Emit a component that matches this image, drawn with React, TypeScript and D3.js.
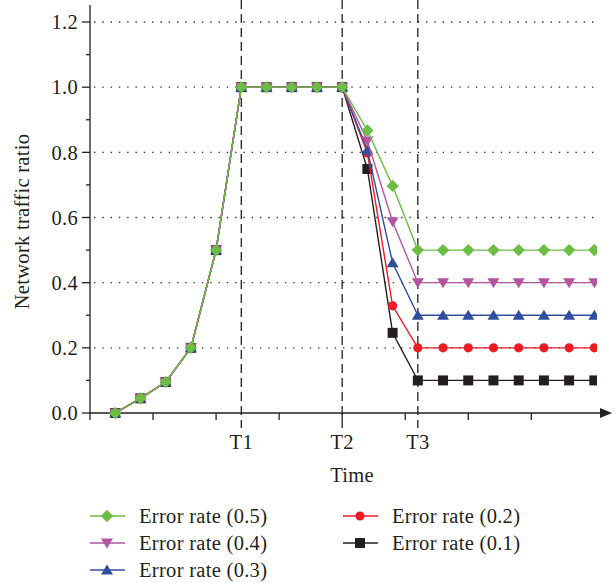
import React, { useEffect, useRef } from 'react';
import * as d3 from 'd3';

// time steps (index along the x axis)
const timeSteps = [0, 1, 2, 3, 4, 5, 6, 7, 8, 9, 10, 11, 12, 13, 14, 15, 16, 17, 18, 19];

const err05 = [0, 0.045, 0.095, 0.2, 0.5, 1, 1, 1, 1, 1, 0.867, 0.697, 0.5, 0.5, 0.5, 0.5, 0.5, 0.5, 0.5, 0.5];
const err04 = [0, 0.045, 0.095, 0.2, 0.5, 1, 1, 1, 1, 1, 0.835, 0.587, 0.4, 0.4, 0.4, 0.4, 0.4, 0.4, 0.4, 0.4];
const err03 = [0, 0.045, 0.095, 0.2, 0.5, 1, 1, 1, 1, 1, 0.807, 0.461, 0.3, 0.3, 0.3, 0.3, 0.3, 0.3, 0.3, 0.3];
const err02 = [0, 0.045, 0.095, 0.2, 0.5, 1, 1, 1, 1, 1, 0.798, 0.329, 0.2, 0.2, 0.2, 0.2, 0.2, 0.2, 0.2, 0.2];
const err01 = [0, 0.045, 0.095, 0.2, 0.5, 1, 1, 1, 1, 1, 0.749, 0.246, 0.1, 0.1, 0.1, 0.1, 0.1, 0.1, 0.1, 0.1];

const seriesNames = ['Error rate (0.5)', 'Error rate (0.4)', 'Error rate (0.3)', 'Error rate (0.2)', 'Error rate (0.1)'];
const seriesColors = ['#6cbd45', '#b4559f', '#2f4e9e', '#ec1c24', '#231f20'];
const seriesMarkers = ['diamond', 'down', 'up', 'circle', 'square'];

const yTicks = [0, 0.2, 0.4, 0.6, 0.8, 1.0, 1.2];
const yMinorTicks = [0.1, 0.3, 0.5, 0.7, 0.9, 1.1];
const xTicks = [-1, 1.5, 4, 6.5, 9, 11.5, 14, 16.5];
const phaseLabels = ['T1', 'T2', 'T3'];
const phaseSteps = [5, 9, 12];

const FONT = '"Liberation Serif", "Times New Roman", serif';

const markerPath = (type: string) => {
  switch (type) {
    case 'diamond':
      return 'M0,-6.2L6.2,0L0,6.2L-6.2,0Z';
    case 'up':
      return 'M0,-5.5L6,4.5L-6,4.5Z';
    case 'down':
      return 'M0,5.5L6,-4.5L-6,-4.5Z';
    case 'circle':
      return d3.arc()({ innerRadius: 0, outerRadius: 4.6, startAngle: 0, endAngle: 2 * Math.PI }) as string;
    default:
      return 'M-5,-5H5V5H-5Z';
  }
};

const App = () => {
  const ref = useRef<HTMLDivElement>(null);

  useEffect(() => {
    document.body.style.margin = '0';
    draw(ref.current);
  }, []);

  const draw = (element: HTMLDivElement | null) => {
    if (!element) return;
    d3.select(element).select('svg').remove();
    const svg = d3.select(element)
      .append('svg')
      .attr('width', 615)
      .attr('height', 583)
      .style('display', 'block')
      .style('font-family', FONT)
      .style('letter-spacing', '0.3px');

    const x = d3.scaleLinear().domain([-1, 19.7]).range([90, 612]);
    const y = d3.scaleLinear().domain([0, 1.2]).range([413, 22]);
    const ink = '#231f20';

    svg.append('clipPath').attr('id', 'plotclip')
      .append('rect').attr('x', 90).attr('y', 0).attr('width', 507).attr('height', 420);

    // dotted grid
    svg.append('g').selectAll('line')
      .data(yTicks.slice(1))
      .enter().append('line')
      .attr('x1', 94).attr('x2', 597)
      .attr('y1', (d) => y(d)).attr('y2', (d) => y(d))
      .attr('stroke', '#333')
      .attr('stroke-width', 1.4)
      .attr('stroke-dasharray', '1.4 6.9');

    // dashed phase lines
    svg.append('g').selectAll('line')
      .data(phaseSteps)
      .enter().append('line')
      .attr('x1', (d) => x(d)).attr('x2', (d) => x(d))
      .attr('y1', 0).attr('y2', 428)
      .attr('stroke', ink)
      .attr('stroke-width', 1.3)
      .attr('stroke-dasharray', '9 5');

    // y axis
    const yAxis = svg.append('g');
    yAxis.append('line').attr('x1', 90).attr('x2', 90).attr('y1', 5).attr('y2', 413)
      .attr('stroke', ink).attr('stroke-width', 1.3);
    yAxis.selectAll('.maj').data(yTicks).enter().append('line')
      .attr('x1', 82).attr('x2', 90).attr('y1', (d) => y(d)).attr('y2', (d) => y(d))
      .attr('stroke', ink).attr('stroke-width', 1.3);
    yAxis.selectAll('.min').data(yMinorTicks).enter().append('line')
      .attr('x1', 86).attr('x2', 90).attr('y1', (d) => y(d)).attr('y2', (d) => y(d))
      .attr('stroke', ink).attr('stroke-width', 1.3);
    yAxis.selectAll('text').data(yTicks).enter().append('text')
      .attr('x', 78).attr('y', (d) => y(d)).attr('dy', '0.35em')
      .attr('text-anchor', 'end').attr('font-size', 20.5).attr('fill', ink)
      .text((d) => d3.format('.1f')(d));

    svg.append('text')
      .attr('transform', `translate(29, ${y(0.6) + 4}) rotate(-90)`)
      .attr('text-anchor', 'middle').attr('font-size', 20.5).attr('fill', ink)
      .text('Network traffic ratio');

    // x axis
    const xAxis = svg.append('g');
    xAxis.append('line').attr('x1', 90).attr('x2', 602).attr('y1', 413).attr('y2', 413)
      .attr('stroke', ink).attr('stroke-width', 1.3);
    xAxis.append('path').attr('d', 'M612,413L600,408L600,418Z').attr('fill', ink);
    xAxis.selectAll('.tk').data(xTicks).enter().append('line')
      .attr('x1', (d) => x(d)).attr('x2', (d) => x(d)).attr('y1', 413).attr('y2', 420)
      .attr('stroke', ink).attr('stroke-width', 1.3);
    xAxis.selectAll('text').data(phaseSteps).enter().append('text')
      .attr('x', (d) => x(d)).attr('y', 449)
      .attr('text-anchor', 'middle').attr('font-size', 20.5).attr('fill', ink)
      .text((d, i) => phaseLabels[i]);
    svg.append('text').attr('x', 352).attr('y', 482)
      .attr('text-anchor', 'middle').attr('font-size', 20.5).attr('fill', ink)
      .text('Time');

    // series (drawn from 0.1 up so 0.5 ends on top)
    const allSeries = [err05, err04, err03, err02, err01];
    const lineGen = d3.line<number>()
      .x((d, i) => x(timeSteps[i]))
      .y((d) => y(d));
    const plot = svg.append('g').attr('clip-path', 'url(#plotclip)');
    [4, 3, 2, 1, 0].forEach((s) => {
      const g = plot.append('g');
      g.append('path').attr('d', lineGen(allSeries[s]))
        .attr('fill', 'none').attr('stroke', seriesColors[s]).attr('stroke-width', 1.4);
      g.selectAll('path.m').data(allSeries[s]).enter().append('path')
        .attr('class', 'm')
        .attr('d', markerPath(seriesMarkers[s]))
        .attr('transform', (d, i) => `translate(${x(timeSteps[i])}, ${y(d)})`)
        .attr('fill', seriesColors[s]);
    });

    // legend
    const legendPos = [
      { lx: 90, ly: 516 },
      { lx: 90, ly: 543 },
      { lx: 90, ly: 570 },
      { lx: 343, ly: 516 },
      { lx: 343, ly: 543 }
    ];
    const legend = svg.append('g');
    seriesNames.forEach((name, s) => {
      const { lx, ly } = legendPos[s];
      legend.append('line').attr('x1', lx).attr('x2', lx + 35).attr('y1', ly).attr('y2', ly)
        .attr('stroke', seriesColors[s]).attr('stroke-width', 1.4);
      legend.append('path').attr('d', markerPath(seriesMarkers[s]))
        .attr('transform', `translate(${lx + 17}, ${ly})`).attr('fill', seriesColors[s]);
      legend.append('text').attr('x', lx + 49).attr('y', ly).attr('dy', '0.35em')
        .attr('font-size', 20.5).attr('fill', ink).text(name);
    });
  };

  return <div ref={ref}></div>;
};

export default App;
